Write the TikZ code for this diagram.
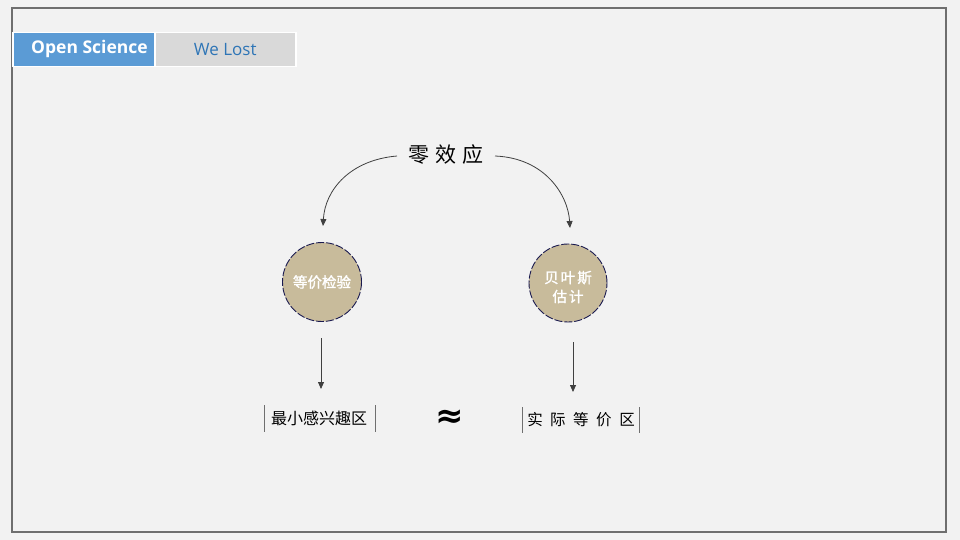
\documentclass[tikz,border=0pt]{standalone}
\usepackage{fontspec}
\setmainfont{Open Sans}
\newfontfamily\cjk{Noto Sans CJK SC}
\newfontfamily\cjkb[FakeBold=1.5]{Noto Sans CJK SC}
\newfontfamily\dejab{DejaVu Sans}
\usetikzlibrary{arrows.meta}
\definecolor{bg}{HTML}{F2F2F2}
\definecolor{frame}{HTML}{6F6F6F}
\definecolor{tabblue}{HTML}{5B9BD5}
\definecolor{tabgray}{HTML}{D9D9D9}
\definecolor{tabtext}{HTML}{2E75B6}
\definecolor{tan}{HTML}{C8BB9B}
\definecolor{navy}{HTML}{1A1A50}
\definecolor{arr}{HTML}{404040}
\tikzset{
  tab/.style={draw=white, line width=1.5pt, minimum width=141pt, minimum height=34pt, inner sep=0pt, anchor=north west},
  circ/.style={circle, fill=tan, draw=navy, dash pattern=on 8pt off 2pt, line width=0.9pt, minimum size=79pt, inner sep=0pt, text=white, font=\cjkb\fontsize{14.5}{18}\selectfont, align=center},
  conn/.style={draw=arr, line width=0.8pt, -{Triangle[length=7pt,width=6pt]}},
  lbl/.style={font=\cjk\fontsize{16}{18}\selectfont, text=black, inner sep=0pt},
  bar/.style={draw=frame, line width=0.8pt}
}
\begin{document}
\begin{tikzpicture}[x=1pt,y=-1pt]
\useasboundingbox (0,0) rectangle (960,540);
\fill[bg] (0,0) rectangle (960,540);
\draw[frame, line width=2pt] (12,8) rectangle (946,532);
\node[tab, fill=tabgray, text=tabtext, font=\fontsize{17}{20}\selectfont] (t2) at (154,32) {We Lost};
\node[tab, fill=tabblue, minimum width=142pt] (t1) at (12,32) {};
\node[text=white, font=\bfseries\fontsize{17.5}{20}\selectfont, anchor=west, inner sep=0pt] (t1l) at (31,49) {Open Science};
\node[font=\cjk\fontsize{21}{24}\selectfont, inner sep=1pt] (null) at (446,155) {零\hspace{6pt}效\hspace{6pt}应};
\node[circ] (eq) at (322,282) {等价检验};
\node[circ, minimum size=78pt] (bay) at (568,283) {};
\node[text=white, font=\cjkb\fontsize{14.5}{18}\selectfont, align=center, inner sep=0pt] (baytxt) at (568,287) {贝\hspace{2pt}叶\hspace{2pt}斯\\[1pt]估\hspace{2pt}计};
\coordinate (la) at (323,226);
\coordinate (ra) at (570,228);
\draw[conn] (397,156) .. controls (350,160) and (325,190) .. (la);
\draw[conn] (495,156) .. controls (545,158) and (568,195) .. (ra);
\node[lbl] (sesoi) at (319,418) {最小感兴趣区};
\node[lbl, font=\cjk\fontsize{15.5}{18}\selectfont] (roe) at (581,420) {实\hspace{7.5pt}际\hspace{7.5pt}等\hspace{7.5pt}价\hspace{7.5pt}区};
\node[font=\dejab\bfseries\fontsize{34}{34}\selectfont, inner sep=0pt] (approx) at (450,419) {≈};
\coordinate (l1) at (321,338);
\coordinate (r1) at (573,342);
\draw[conn] (l1) -- (321,389);
\draw[conn] (r1) -- (573,392);
\draw[bar] (264,405) -- (264,432);
\draw[bar] (375,405) -- (375,432);
\draw[bar] (522,407) -- (522,433);
\draw[bar] (639,407) -- (639,433);
\end{tikzpicture}
\end{document}
